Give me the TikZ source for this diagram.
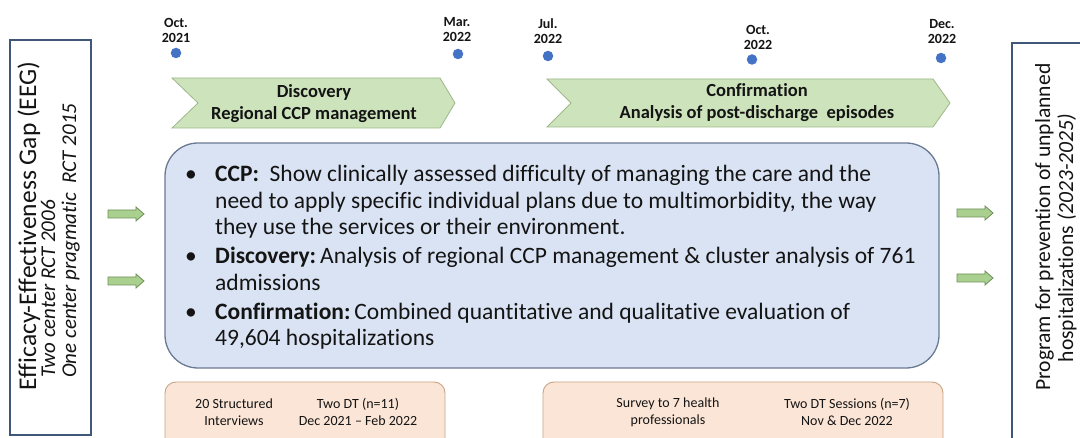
\documentclass[tikz,border=0pt]{standalone}
\usepackage{fontspec}
\setmainfont{Carlito}[Ligatures=NoCommon]
\usetikzlibrary{backgrounds}
\definecolor{edgeblue}{HTML}{3F5779}
\definecolor{boxblue}{HTML}{DAE3F3}
\definecolor{boxedge}{HTML}{6A7A92}
\definecolor{chevfill}{HTML}{CDE3BC}
\definecolor{chevedge}{HTML}{9DB98A}
\definecolor{dotblue}{HTML}{4472C4}
\definecolor{tlgray}{HTML}{8E9DB5}
\definecolor{peach}{HTML}{FBE5D6}
\definecolor{peachedge}{HTML}{C9A587}
\definecolor{arrfill}{HTML}{A9D08E}
\definecolor{arredge}{HTML}{6E8F58}
\definecolor{txt}{HTML}{141414}
\tikzset{
  dot/.style={circle,fill=dotblue,inner sep=0,minimum size=10.5},
  datelbl/.style={font=\fontsize{14}{15}\selectfont\bfseries,align=center,inner sep=0,text=txt},
  chev/.style={fill=chevfill,draw=chevedge,line width=0.8},
  chevtxt/.style={font=\fontsize{18.5}{22}\selectfont\bfseries,align=center,inner sep=0,text=txt},
  blockarr/.style={fill=arrfill,draw=arredge,line width=0.8,line join=miter},
  mainline/.style={anchor=base west,inner sep=0,font=\fontsize{23.5}{27}\selectfont,text=txt},
  bul/.style={anchor=base,inner sep=0,font=\fontsize{23.5}{27}\selectfont,text=txt},
  peachbox/.style={fill=peach,draw=peachedge,line width=0.9,rounded corners=11},
  peachtxt/.style={font=\fontsize{14}{17}\selectfont,align=center,inner sep=0,text=txt},
  sidebox/.style={draw=edgeblue,fill=white,inner sep=0},
}
\begin{document}
\begin{tikzpicture}[x=1pt,y=-1pt]
\useasboundingbox (0,0) rectangle (1080,438);
\clip (0,0) rectangle (1080,438);
\fill[white] (0,0) rectangle (1080,438);

% ---- left box
\node[sidebox,line width=2.6,minimum width=81,minimum height=395] (eeg) at (50.5,237.5) {};
\node[rotate=90,anchor=base,inner sep=0,font=\fontsize{25.5}{28}\selectfont,text=txt] (eegt) at (36,226) {Efficacy-Effectiveness Gap (EEG)};
\node[rotate=90,anchor=base west,inner sep=0,font=\fontsize{21}{22}\selectfont\itshape,text=txt] (rct1) at (55,378) {Two center RCT 2006};
\node[rotate=90,anchor=base west,inner sep=0,font=\fontsize{21}{22}\selectfont\itshape,text=txt] (rct2) at (76,378) {One center pragmatic\ \ RCT 2015};

% ---- right box
\node[sidebox,line width=2,minimum width=84,minimum height=410] (prog) at (1054,248) {};
\node[rotate=90,anchor=base,inner sep=0,font=\fontsize{21.6}{24}\selectfont,text=txt] (progt1) at (1050,227) {Program for prevention of unplanned};
\node[rotate=90,anchor=base,inner sep=0,font=\fontsize{21.6}{24}\selectfont,text=txt] (progt2) at (1073,238) {hospitalizations \textit{(2023-2025)}};

% ---- timeline
\node[dot] (d1) at (176,53) {};
\node[dot] (d2) at (458,54) {};
\node[dot] (d3) at (548,56) {};
\node[dot] (d4) at (752,59.5) {};
\node[dot] (d5) at (941,58) {};
\begin{scope}[on background layer]
\draw[tlgray,line width=0.9] (d1.center) -- (d2.center);
\draw[tlgray,line width=0.9] (d3.center) -- (d4.center) -- (d5.center);
\end{scope}
\node[datelbl] (l1) at (176,30) {Oct.\\2021};
\node[datelbl] (l2) at (457,30) {Mar.\\2022};
\node[datelbl] (l3) at (548,31) {Jul.\\2022};
\node[datelbl] (l4) at (758,37.5) {Oct.\\2022};
\node[datelbl] (l5) at (942,32) {Dec.\\2022};

% ---- chevrons
\draw[chev] (172,78) -- (440,78) -- (455,103) -- (440,128) -- (172,128) -- (198,103) -- cycle;
\node[chevtxt] (disc) at (314,104) {Discovery\\Regional CCP management};
\draw[chev] (547,79) -- (933,79) -- (950,103) -- (933,127) -- (547,127) -- (571,103) -- cycle;
\node[chevtxt] (conf) at (757,103) {Confirmation\\Analysis of post-discharge\ \ episodes};

% ---- main box
\node[draw=boxedge,fill=boxblue,rounded corners=33,line width=1.3,minimum width=774,minimum height=225,inner sep=0] (main) at (552,255.5) {};
\node[bul] (b1) at (191,182) {•};
\node[mainline] (t1) at (215,182) {\textbf{CCP:}\ \ Show clinically assessed difficulty of managing the care and the};
\node[mainline] (t2) at (215,208.5) {need to apply specific individual plans due to multimorbidity, the way};
\node[mainline] (t3) at (215,235) {they use the services or their environment.};
\node[bul] (b2) at (191,264) {•};
\node[mainline] (t4) at (215,264) {\textbf{Discovery:}\,Analysis of regional CCP management \& cluster analysis of 761};
\node[mainline] (t5) at (215,290.5) {admissions};
\node[bul] (b3) at (191,319.5) {•};
\node[mainline] (t6) at (215,319.5) {\textbf{Confirmation:}\,Combined quantitative and qualitative evaluation of};
\node[mainline] (t7) at (215,346) {49,604 hospitalizations};

% ---- block arrows
\foreach \n/\x/\y in {a1/126/214, a2/126/281, a3/975/213, a4/975/278}{
  \coordinate (\n) at (\x,\y);
  \draw[blockarr] (\n) ++(-18,-4) -- ++(28,0) -- ++(0,-3) -- ++(8,7) -- ++(-8,7) -- ++(0,-3) -- ++(-28,0) -- cycle;
}

% ---- bottom boxes
\draw[peachbox] (165,382) rectangle (445,450);
\node[peachtxt] (p1) at (234,412) {20 Structured\\Interviews};
\node[peachtxt] (p2) at (358,412) {Two\ DT (n=11)\\Dec 2021 -- Feb 2022};
\draw[peachbox] (543,382) rectangle (943,450);
\node[peachtxt] (p3) at (668,412) {Survey to 7 health\\professionals};
\node[peachtxt] (p4) at (847,412) {Two DT Sessions (n=7)\\Nov \& Dec 2022};
\end{tikzpicture}
\end{document}
